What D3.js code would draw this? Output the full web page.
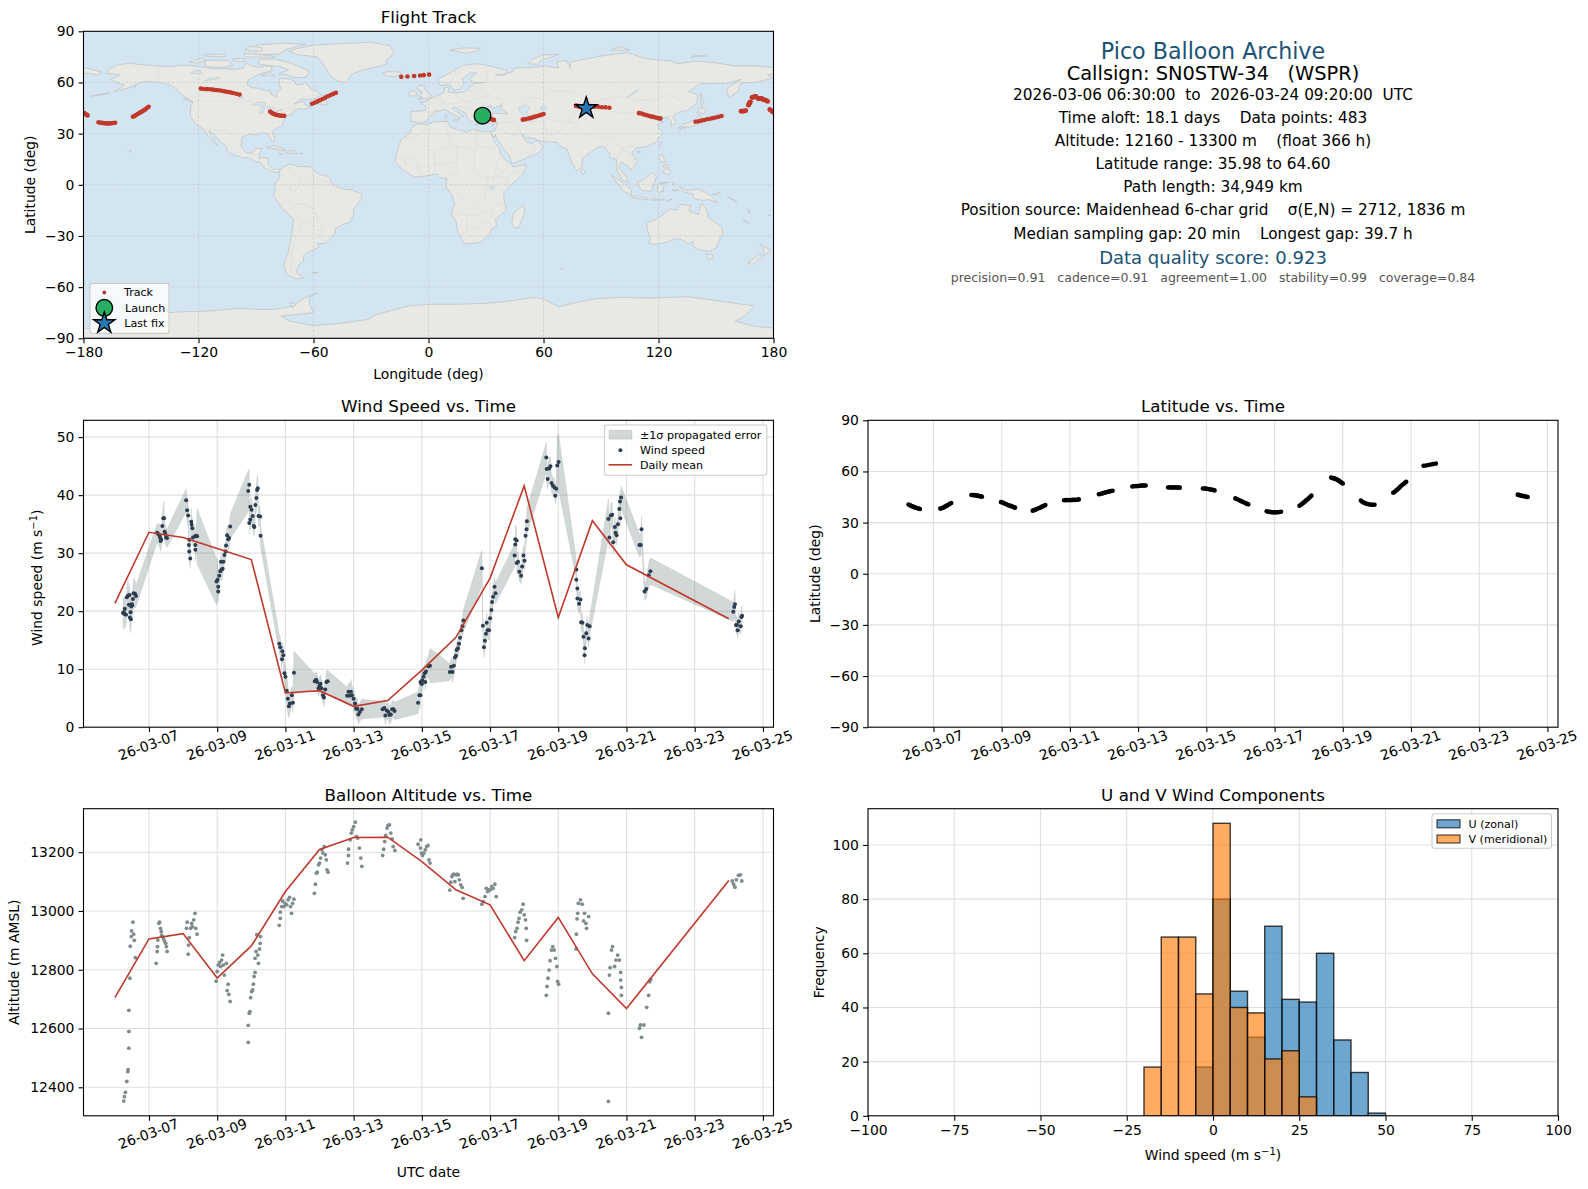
<!DOCTYPE html>
<html><head><meta charset="utf-8">
<script src="https://cdn.jsdelivr.net/npm/d3@7"></script>
<style>
html,body{margin:0;padding:0;background:#fff}
svg{display:block;font-family:"DejaVu Sans",sans-serif}
text{white-space:pre;fill:#000}
</style></head><body>
<script>
// ---- flight fixes (day of March 2026, latitude, longitude) ----
const fixDay=[
6.27,6.31,6.34,6.38,6.42,6.46,6.49,6.53,6.57,6.60,
7.20,7.24,7.27,7.31,7.34,7.38,7.41,7.45,7.48,7.52,
8.11,8.14,8.18,8.21,8.25,8.28,8.32,8.35,8.39,8.42,
8.98,9.03,9.07,9.12,9.17,9.21,9.26,9.30,9.35,9.39,
9.91,9.95,9.99,10.03,10.08,10.12,10.16,10.20,10.24,10.28,
10.83,10.88,10.93,10.98,11.03,11.07,11.12,11.17,11.22,11.26,
11.85,11.89,11.94,11.98,12.03,12.07,12.12,12.16,12.21,12.25,
12.83,12.87,12.92,12.96,13.01,13.05,13.09,13.14,13.18,13.22,
13.88,13.92,13.96,14.0,14.04,14.07,14.11,14.15,14.19,14.22,
14.90,14.94,14.98,15.01,15.05,15.09,15.13,15.17,15.20,15.24,
15.85,15.89,15.94,15.98,16.02,16.06,16.11,16.15,16.19,16.23,
16.77,16.82,16.87,16.91,16.96,17.0,17.05,17.10,17.14,17.19,
17.73,17.77,17.81,17.85,17.89,17.92,17.96,18.0,18.04,18.08,
18.66,18.69,18.71,18.74,18.76,18.79,18.81,18.84,18.86,18.89,18.91,18.94,18.97,19.00,
19.53,19.57,19.62,19.66,19.71,19.75,19.80,19.84,19.89,19.93,
20.48,20.52,20.57,20.61,20.65,20.69,20.73,20.78,20.82,20.86,
21.37,21.44,21.51,21.58,21.65,21.73,
24.13,24.16,24.19,24.22,24.25,24.29,24.32,24.35,24.39,24.42];
const fixLat=[
40.6,40.2,39.9,39.5,39.2,38.9,38.7,38.4,38.2,38.0,
38.2,38.4,38.7,39.0,39.4,39.8,40.2,40.6,41.0,41.5,
46.2,46.2,46.1,46.0,45.9,45.8,45.7,45.5,45.4,45.2,
42.0,41.8,41.3,40.9,40.5,40.1,39.8,39.5,39.1,38.8,
37.0,37.2,37.6,38.0,38.4,38.7,39.1,39.5,39.9,40.3,
43.1,43.2,43.2,43.2,43.2,43.3,43.3,43.3,43.4,43.6,
46.6,46.8,47.1,47.3,47.6,47.8,48.1,48.3,48.5,48.7,
51.2,51.3,51.4,51.4,51.5,51.6,51.7,51.7,51.8,51.8,
50.6,50.7,50.6,50.6,50.6,50.7,50.6,50.6,50.6,50.5,
50.0,50.0,49.9,49.8,49.7,49.6,49.4,49.3,49.1,48.9,
44.2,43.8,43.4,43.0,42.6,42.2,41.8,41.4,41.0,40.7,
36.7,36.4,36.3,36.1,36.0,36.0,36.0,36.1,36.2,36.4,
39.9,40.4,41.0,41.7,42.3,42.9,43.5,44.2,45.0,45.8,
56.4,56.2,56.1,56.0,55.8,55.6,55.4,55.1,54.8,54.5,54.2,53.8,53.4,52.9,
42.9,42.2,41.7,41.3,41.0,40.8,40.6,40.5,40.5,40.5,
47.5,48.1,48.9,49.6,50.3,51.1,51.9,52.6,53.3,54.0,
63.3,63.5,63.8,64.1,64.3,64.6,
46.4,46.2,46.1,45.9,45.7,45.6,45.5,45.3,45.1,45.0];
const fixLon=[
28.4,29.0,29.7,30.3,30.9,31.5,32.1,32.8,33.5,34.2,
49.2,50.4,51.6,52.8,54.0,55.2,56.4,57.6,58.8,60.0,
77.0,79.0,80.9,82.8,84.8,86.7,88.6,90.5,92.4,94.4,
109.8,111.0,112.3,113.5,114.8,116.0,117.2,118.5,119.8,121.0,
139.3,140.8,142.3,143.8,145.3,146.9,148.4,149.9,151.4,152.9,
163.0,163.3,163.6,163.9,164.1,164.5,164.8,165.0,165.3,165.6,
166.9,167.0,167.1,167.2,167.3,167.5,167.6,167.7,167.8,168.0,
168.7,169.0,169.2,169.5,169.8,170.0,170.2,170.5,170.8,171.0,
171.8,172.0,172.3,172.5,172.8,173.0,173.3,173.5,173.8,174.0,
174.5,174.8,175.0,175.3,175.6,175.9,176.1,176.4,176.7,177.0,
178.0,178.4,178.9,179.3,179.7,-179.8,-179.3,-178.8,-178.3,-177.9,
-172.2,-171.2,-170.3,-169.3,-168.4,-167.4,-166.4,-165.4,-164.5,-163.5,
-154.2,-153.3,-152.4,-151.5,-150.6,-149.6,-148.7,-147.8,-146.9,-146.0,
-118.8,-117.2,-115.6,-114.0,-112.5,-111.0,-109.5,-108.0,-106.5,-105.0,-103.5,-102.0,-100.3,-98.6,
-82.6,-81.8,-81.0,-80.2,-79.4,-78.5,-77.7,-76.9,-76.1,-75.3,
-60.8,-59.4,-58.0,-56.6,-55.2,-53.9,-52.5,-51.1,-49.7,-48.3,
-14.2,-11.0,-7.5,-4.4,-2.5,0.3,
77.0,77.6,78.1,78.6,79.2,79.7,80.2,80.8,81.6,82.3];

// ---- wind speed ----
const windDay=[
6.24,6.26,6.29,6.28,6.33,6.35,6.39,6.43,6.41,6.46,6.50,6.48,6.46,6.44,6.47,6.53,6.55,6.59,6.62,6.51,
7.24,7.27,7.31,7.33,7.34,7.36,7.39,7.42,7.44,7.46,7.48,7.50,7.53,
8.09,8.12,8.15,8.18,8.17,8.18,8.21,8.24,8.25,8.27,8.29,8.35,8.36,8.36,8.39,8.41,
8.98,9.01,9.03,9.03,9.06,9.09,9.13,9.16,9.11,9.18,9.21,9.25,9.26,9.29,9.32,9.35,9.38,
9.91,9.94,9.94,9.97,9.97,10.01,10.04,10.07,10.09,10.12,10.15,10.17,10.19,10.21,10.26,10.27,
10.82,10.85,10.91,10.94,10.90,10.97,11.0,11.04,11.07,11.10,11.13,11.19,11.22,11.25,
11.86,11.9,11.93,11.97,12.0,12.03,12.06,12.1,12.13,12.17,12.2,12.24,
12.81,12.85,12.89,12.92,12.95,13.0,13.04,13.07,13.11,13.14,13.18,13.24,
13.85,13.9,13.93,13.97,14.02,14.05,14.09,14.13,14.17,14.2,
14.89,14.93,14.96,14.96,14.99,15.0,15.01,15.05,15.08,15.1,15.12,15.19,15.24,
15.82,15.86,15.9,15.94,15.97,16.0,16.02,16.06,16.09,16.12,16.16,16.19,16.22,
16.76,16.79,16.82,16.85,16.88,16.9,16.93,16.97,17.0,17.04,17.06,17.09,17.13,17.16,
17.72,17.74,17.74,17.78,17.78,17.82,17.86,17.91,17.94,17.98,18.01,18.04,18.07,18.08,
18.65,18.66,18.69,18.73,18.77,18.8,18.84,18.89,18.91,18.94,18.97,19.01,
19.53,19.53,19.56,19.56,19.61,19.65,19.67,19.71,19.74,19.78,19.77,19.82,19.85,19.89,19.92,
20.47,20.5,20.54,20.58,20.61,20.66,20.68,20.71,20.75,20.79,20.82,20.81,20.84,
21.38,21.42,21.44,21.53,21.58,21.65,21.7,
24.13,24.16,24.18,24.21,24.24,24.26,24.29,24.35,24.37,24.39];
const windSpeed=[
19.7,19.8,20.4,19.5,19.4,22.4,22.7,22.8,21.1,21.1,21.2,20.8,19.8,18.9,18.6,22.1,23.1,23.0,22.6,21.0,
33.5,33.3,33.0,32.6,32.1,32.3,34.7,36.0,36.0,33.7,33.3,32.7,32.6,
39.1,37.4,36.5,32.3,31.4,30.3,29.1,35.4,34.9,34.3,32.7,32.9,31.4,30.6,33.0,32.9,
25.1,25.4,24.2,23.4,26.1,26.9,27.2,27.3,28.5,28.5,29.7,30.3,31.3,33.1,32.4,32.6,34.6,
40.7,41.8,35.2,38.0,35.8,37.5,36.4,34.7,34.5,38.3,39.5,40.9,41.2,36.4,36.3,33.0,
14.4,13.8,13.1,12.4,11.7,9.3,8.7,6.3,4.9,3.6,4.1,5.5,4.2,9.4,
7.9,8.2,7.8,6.7,7.2,7.5,6.7,5.5,5.1,6.5,7.8,7.9,
5.4,6.1,5.4,6.1,5.5,4.9,4.1,3.2,3.2,2.2,2.6,3.1,
3.1,3.3,2.0,2.9,2.6,2.1,2.2,3.1,3.1,2.8,
4.2,5.5,5.5,7.8,7.5,7.5,8.1,8.7,9.3,7.8,9.6,10.5,10.6,
9.5,10.4,9.5,10.6,12.0,12.3,13.3,13.6,14.4,15.4,16.7,17.4,18.4,
27.4,17.5,13.8,14.9,16.1,18.0,16.7,16.7,18.8,20.2,21.6,22.5,24.2,23.1,
29.6,31.5,32.4,32.2,28.3,28.5,26.8,26.1,27.7,29.6,28.7,33.0,34.1,35.5,
46.5,44.5,42.8,44.6,45.0,42.1,41.6,41.3,39.9,41.1,45.1,45.7,
27.2,25.4,23.9,22.2,21.3,22.0,18.1,18.0,15.6,13.6,12.4,16.2,17.6,15.3,17.4,
35.9,32.7,36.5,36.6,31.9,34.5,33.5,33.1,35.0,37.6,36.0,38.9,39.6,
31.4,31.4,34.1,23.4,23.8,26.2,26.9,
19.9,20.7,21.2,17.6,17.6,16.7,18.2,17.4,19.0,19.2];
const windSigma=[
2.8,2.4,2.1,2.6,2.2,2.0,2.8,1.9,2.0,1.8,2.1,2.2,2.5,2.6,2.3,2.0,2.6,2.4,1.9,2.2,
1.6,1.8,2.0,2.1,1.8,1.5,2.0,2.3,3.0,2.0,1.6,1.5,1.6,
2.0,2.2,2.0,1.8,2.0,1.7,1.8,2.4,1.9,1.8,1.6,1.9,1.7,2.1,2.5,4.8,
4.0,3.6,2.5,2.0,1.8,1.6,1.8,2.0,1.8,1.6,1.6,1.8,1.8,1.7,1.8,1.9,2.1,
3.6,2.6,2.0,2.2,1.8,2.0,1.7,1.6,1.6,2.0,2.2,2.3,2.2,1.8,1.8,1.9,
1.6,1.7,1.5,1.6,1.8,1.6,1.8,2.4,2.6,2.0,1.9,1.6,1.7,3.7,
1.3,1.4,1.5,1.4,1.4,1.6,1.6,1.4,1.5,1.5,1.9,1.9,
1.5,1.6,2.0,2.2,1.7,1.6,1.5,1.6,1.9,1.6,1.6,1.7,
1.4,1.7,1.6,1.4,1.5,1.6,1.5,1.4,1.5,1.5,
1.9,2.2,1.8,1.7,1.6,1.7,1.8,1.6,1.6,1.5,1.7,1.8,3.0,
1.5,1.6,1.9,1.5,1.6,1.5,1.4,1.6,1.5,1.6,1.6,1.6,1.9,
3.2,2.3,1.8,1.7,1.8,1.7,1.6,1.7,1.8,1.8,1.7,1.8,1.7,1.8,
2.0,2.3,2.5,2.2,1.7,1.8,1.6,1.5,2.0,1.8,1.7,2.0,2.1,2.3,
2.6,2.3,1.9,1.8,1.7,1.6,1.5,1.5,1.6,1.7,5.2,4.9,
1.7,1.8,1.8,1.7,1.8,1.7,1.6,1.7,1.7,1.6,1.6,1.6,1.7,1.6,1.6,
3.5,2.0,2.0,2.2,2.0,1.9,1.8,1.7,1.8,1.8,1.8,2.0,2.0,
2.0,1.9,2.5,1.5,1.6,2.2,2.3,
1.7,2.0,2.5,1.5,1.5,1.4,1.6,1.4,1.6,1.9];
const meanDay=[6,7,8,9,10,11,12,13,14,15,16,17,18,19,20,21,24];
const meanWind=[21.35,33.6,32.7,30.8,28.9,5.9,6.3,3.6,4.6,9.84,15.5,25.7,41.6,18.9,35.6,28.0,18.7];
const meanAlt=[12705,12905,12923,12772,12881,13066,13209,13250,13251,13168,13072,13021,12831,12978,12786,12668,13104];

// ---- altitude ----
const altDay=[
6.26,6.28,6.31,6.35,6.38,6.39,6.41,6.41,6.41,6.44,6.45,6.48,6.49,6.53,6.55,6.57,6.6,
7.21,7.25,7.24,7.26,7.29,7.31,7.34,7.36,7.37,7.40,7.43,7.46,7.49,7.51,7.53,
8.10,8.12,8.15,8.16,8.18,8.22,8.25,8.27,8.31,8.35,8.37,8.41,
8.97,9.0,9.03,9.07,9.10,9.13,9.16,9.18,9.21,9.27,9.32,9.29,9.34,9.38,
9.91,9.91,9.94,9.96,9.98,10.01,10.04,10.06,10.08,10.11,10.11,10.14,10.16,10.19,10.21,10.24,10.26,10.27,
10.82,10.85,10.85,10.89,10.92,10.95,10.99,11.04,11.08,11.12,11.15,11.18,11.21,11.25,
11.85,11.88,11.91,11.93,11.97,12.0,12.03,12.07,12.1,12.14,12.17,12.2,12.22,12.25,
12.82,12.85,12.85,12.9,12.93,12.96,13.0,13.05,13.08,13.12,13.17,13.21,13.24,
13.85,13.88,13.91,13.94,13.98,14.01,14.05,14.09,14.13,14.16,14.21,
14.89,14.97,14.96,14.99,15.02,15.06,15.1,15.14,15.18,15.21,15.24,
15.82,15.85,15.88,15.91,15.94,15.97,16.0,16.04,16.07,16.1,16.14,16.18,16.21,
16.76,16.8,16.85,16.89,16.93,16.97,17.01,17.05,17.09,17.14,17.18,
17.72,17.75,17.79,17.82,17.85,17.88,17.93,17.97,18.0,18.04,18.06,18.07,
18.65,18.67,18.7,18.73,18.76,18.8,18.84,18.88,18.92,18.96,18.98,19.01,
19.52,19.53,19.55,19.57,19.59,19.65,19.7,19.74,19.77,19.81,19.83,19.89,
20.47,20.47,20.5,20.52,20.56,20.59,20.65,20.69,20.74,20.79,20.83,20.83,20.85,20.85,
21.38,21.41,21.44,21.51,21.59,21.65,21.68,21.71,
24.1,24.14,24.18,24.22,24.28,24.34,24.38];
const altitude=[
12353,12368,12383,12420,12453,12460,12533,12590,12662,12771,12880,12913,12932,12962,12921,12900,12841,
12822,12879,12862,12901,12958,12962,12941,12930,12918,12913,12905,12896,12890,12879,12862,
12941,12962,12853,12884,12909,12941,12958,12947,12970,12992,12941,12921,
12761,12794,12816,12825,12811,12833,12850,12816,12782,12822,12751,12729,12716,12692,
12553,12611,12652,12657,12705,12726,12731,12751,12777,12791,12839,12862,12919,12850,12822,12871,12890,12913,
12951,12975,12996,13015,13034,13015,13026,13021,13038,13046,13015,12992,13026,13040,
13060,13091,13128,13132,13157,13163,13180,13208,13197,13219,13191,13174,13140,13132,
13163,13189,13210,13242,13265,13276,13287,13302,13253,13248,13214,13180,13152,
13189,13210,13236,13257,13282,13291,13293,13265,13245,13219,13206,
13227,13242,13214,13197,13189,13197,13208,13219,13223,13174,13163,
13071,13098,13117,13123,13125,13100,13123,13125,13123,13106,13089,13080,13043,
13023,13032,13049,13077,13066,13072,13072,13083,13077,13091,13049,
12909,12930,12941,12962,12975,12996,13004,13023,12987,12970,12941,12900,
12713,12743,12771,12799,12831,12867,12879,12867,12839,12811,12760,12751,
12871,12921,12973,12992,13026,13038,13023,12966,12992,12958,12941,12981,
12352,12652,12782,12807,12867,12879,12811,12833,12850,12833,12791,12765,12740,12713,
12601,12612,12570,12612,12672,12713,12759,12767,
13102,13091,13081,13106,13121,13123,13102];

// ---- histogram counts ----
const binStart=[-20,-15,-10,-5,0,5,10,15,20,25,30,35,40,45];
const binWidth=5;
const countU=[0,0,0,18,80,46,29,70,43,42,60,28,16,1];
const countV=[18,66,66,45,108,40,38,21,24,7,0,0,0,0];

// ---- tick labels ----
const dateTickDays=[7,9,11,13,15,17,19,21,23,25];
const lonTicks=[-180,-120,-60,0,60,120,180];
const latTicks=[-90,-60,-30,0,30,60,90];
const windTicks=[0,10,20,30,40,50];
const altTicks=[12400,12600,12800,13000,13200];
const histXTicks=[-100,-75,-50,-25,0,25,50,75,100];
const histYTicks=[0,20,40,60,80,100];

// ---- summary text ----
const infoLines=[
["Pico Balloon Archive",22.2,"#1a5276",50.7],
["Callsign: SN0STW-34   (WSPR)",19.4,"#000",73],
["2026-03-06 06:30:00  to  2026-03-24 09:20:00  UTC",15.3,"#000",94.2],
["Time aloft: 18.1 days    Data points: 483",15.3,"#000",117.6],
["Altitude: 12160 - 13300 m    (float 366 h)",15.3,"#000",140.9],
["Latitude range: 35.98 to 64.60",15.3,"#000",163.2],
["Path length: 34,949 km",15.3,"#000",186.5],
["Position source: Maidenhead 6-char grid    σ(E,N) = 2712, 1836 m",15.3,"#000",209.8],
["Median sampling gap: 20 min    Longest gap: 39.7 h",15.3,"#000",233],
["Data quality score: 0.923",18,"#1a5276",257.4],
["precision=0.91   cadence=0.91   agreement=1.00   stability=0.99   coverage=0.84",12.5,"#555",277.7]
];

// ---- basemap outlines, read by eye as [lon,lat] ----
const land=[
[[-168,65.5],[-166,68.3],[-162,70.3],[-156.5,71.3],[-150,70.5],[-141,69.7],[-135,69.3],[-128,70.2],[-124,69.8],[-117,68.9],[-112,68],[-108,68.2],[-102,67.8],[-97,68.2],[-95,71.5],[-92.5,69.7],[-88,68.8],[-85.5,69.8],[-82,69.5],[-81.5,67],[-87,65.3],[-90,63.8],[-94,61.5],[-94.8,59],[-92.5,57],[-88,56.5],[-85,55.3],[-82.3,55.1],[-82,52.9],[-79.5,51.3],[-79,54.5],[-76.8,56.5],[-78.2,59],[-77.5,62.4],[-73.5,62.2],[-70,61],[-69,58.8],[-66,58.8],[-64.5,60.3],[-61.5,56.5],[-58,54.8],[-55.8,52.5],[-60,50.2],[-66.5,50.2],[-70,47.5],[-65,49],[-64.5,47],[-61,45.5],[-66,44],[-67,45],[-70,43.7],[-70.7,41.7],[-74,40.5],[-75.5,37.5],[-76,35],[-78,33.9],[-81,32],[-81.3,30],[-80.1,26.8],[-80.4,25.2],[-81.8,26],[-82.8,28],[-84,30],[-87,30.4],[-90,29.2],[-93.5,29.7],[-97.2,27.8],[-97.8,22.5],[-95.5,18.8],[-92,18.5],[-90.5,21],[-87,21.5],[-88.2,17.5],[-88.7,15.8],[-84,15.8],[-83.3,11.5],[-81,8.8],[-79.5,9.5],[-77.3,8.6],[-77.8,7.2],[-80.3,7.4],[-83,8.3],[-85.8,10],[-87.5,13],[-91,13.9],[-94.5,16.1],[-97,15.8],[-101.5,17.5],[-105.5,20.2],[-105.4,22.5],[-109,25.8],[-112.5,30],[-114.7,31.7],[-113,28],[-110,23.2],[-112.2,25],[-115,28.5],[-117.2,32.6],[-120.6,34.5],[-122.5,37.5],[-124.3,40.4],[-124,46.3],[-122.7,48.5],[-125,50],[-128,52.3],[-130.5,55],[-134,58.2],[-139,59.7],[-146,60.7],[-151,60],[-152,59],[-158,56.3],[-164,54.7],[-158.5,58.5],[-162,59.5],[-166,61.7],[-161,64.3]],
[[-77.3,8.6],[-75.5,10.7],[-72,12.2],[-68,10.7],[-62,10.7],[-57,6],[-52,4.8],[-50,0],[-44.5,-2.5],[-40,-2.9],[-35.2,-5.3],[-34.8,-8],[-37,-11.5],[-39,-14],[-39.3,-18],[-41,-22],[-44.5,-23],[-48.5,-25.8],[-48.7,-28.5],[-52,-32.2],[-54,-34.5],[-58.3,-34.2],[-57,-36.5],[-62,-39],[-65,-41],[-65.3,-45],[-67.5,-46.5],[-69,-51],[-65.2,-54.8],[-69,-55.3],[-74,-52.5],[-75.5,-47],[-73.2,-40],[-71.5,-30],[-70.3,-20],[-76,-14],[-81,-6],[-80,-2.5],[-80,1],[-77.5,4],[-77.8,7.2]],
[[-5.9,35.8],[-2,35.2],[3,36.9],[10,37.3],[11,34],[15,32.3],[20,31],[23,32.5],[29,31],[32.3,31.2],[34.5,31.3],[32.5,29.9],[35,24],[37.3,21],[37.3,18.5],[39.7,15],[43.2,12],[44,10.5],[51.2,11.8],[49,6],[44,1],[39.5,-4.5],[39.3,-8],[40.6,-15],[35,-20],[35.5,-24],[32.8,-26],[32,-29],[27.5,-33.5],[20,-34.8],[18.3,-33.8],[15,-27],[14.5,-22],[11.8,-17],[13.8,-11],[12,-5.5],[9,-1],[9.7,3.5],[6,4.3],[4,6.3],[-2,5],[-7.5,4.5],[-13,8.5],[-16.7,12.5],[-17.4,14.7],[-16.2,20],[-14.5,26],[-10,30],[-9,33]],
[[-9,37],[-9.3,43],[-2,43.4],[-1.2,46],[-4.6,48.4],[-1.5,48.7],[1.5,50.9],[4,52],[8,54],[8.5,57],[10.8,57.5],[10.2,54.5],[14,54],[19,54.4],[21.2,57],[24,59.4],[30,60],[23,60],[21.3,62],[25,65.3],[22,65.8],[17.5,62],[18.8,59.8],[16.5,56.2],[13,55.4],[11.3,59],[6,58.2],[5,62],[12,66],[18,70],[25.5,71],[31,70],[41,67],[40.3,65],[34.8,64.5],[38,64],[44,66.5],[44.5,68.5],[54,68.8],[61,69.8],[68,68.5],[67,72],[72,73],[74,68.5],[74,72],[82,73.7],[90,75.5],[104,77.5],[113,74],[127,72.5],[130,71],[140,72.6],[150,71.5],[160,69.7],[170,69.7],[178,69],[180,68.8],[180,65],[177,64.6],[179.5,62.5],[170.5,60],[163.5,59.8],[162,57.8],[162,55],[156.7,51],[155.5,56.5],[163,61.8],[155,59.2],[150,59.5],[142,59.2],[135.5,54.7],[140.5,53],[140,48],[135,43.5],[130.7,42.5],[127.5,39.8],[129.3,36.5],[126.5,34.5],[126.7,37.5],[124.7,39.8],[121.5,39],[122,40.5],[118,39],[120,37.5],[122.5,37],[119.3,35],[122,31],[121.5,28.5],[118,24.5],[113.5,22.3],[108.5,21.7],[106,19],[109,13.5],[107,10.5],[105,8.7],[104.8,10.5],[100.5,13.5],[99.5,10],[103.5,4.5],[104.2,1.4],[100.8,3],[98.5,8],[98,15],[94.5,16],[94.5,18.5],[91.5,22.5],[88,21.8],[85,19.5],[80.3,15.5],[80,11],[77.5,8],[75,12.5],[72.8,19],[72.5,21],[69,22.3],[67,24.8],[61.5,25.2],[57,26],[56,27],[51,27.8],[48.5,30],[50,26.5],[51.5,25],[54,24.1],[56.3,26],[59.8,22.5],[57.8,19],[52,16],[45,12.8],[43.3,12.8],[42.5,16.5],[39,21.5],[35.2,28],[34.8,29.5],[34.3,27.8],[32.6,29.9],[32.3,31.2],[34.5,31.5],[35.8,35],[36,36.8],[32,36.1],[30.5,36.3],[27.5,36.8],[26.5,39.5],[29,41],[31,41.2],[35,42],[41.5,41.5],[39,44],[37.5,45.2],[38.5,47],[35,45.5],[33.5,44.5],[33,46],[30.5,46],[28,43.5],[28,41.8],[26,40.8],[23.5,40.3],[24,38],[22.8,36.6],[21,38],[19.5,40.5],[19.4,42],[15,44.5],[13.7,45.6],[12.3,44.8],[16,41.8],[18.4,40],[16.5,39.8],[15.8,38.2],[15.5,40],[12.5,41.5],[10.3,43.2],[8.8,44.4],[6,43.2],[3.2,43.2],[3.2,41.8],[0,39.8],[-0.8,37.7],[-2,36.8],[-5.3,36.1],[-7,37.1]],
[[-180,68.8],[-175,67.5],[-170,66],[-173,64.4],[-178,65.5],[-180,65]],
[[-73,78.2],[-68,80],[-60,82],[-45,82.8],[-30,83.6],[-20,81.5],[-18,77],[-22,73],[-22,70.5],[-32,68],[-40,65],[-43,60],[-48,61],[-52,65],[-54,69.5],[-58,75],[-68,76.2]],
[[-80,73.7],[-72,71.5],[-67,69],[-62,66.5],[-64,63],[-70,62.8],[-74,64.5],[-78,65],[-73,67.5],[-78,69.5],[-85,70],[-89,71],[-88,73.5]],
[[-117,73],[-105,73],[-102,70],[-108,68.8],[-116,69.2]],
[[-125,72],[-118,74.2],[-116,73],[-121,71.3]],
[[-90,76.5],[-78,76.5],[-75,79],[-64,82.5],[-75,83],[-90,82]],
[[-96,75],[-80,74.7],[-82,75.8],[-96,77]],
[[-117,75.5],[-106,75],[-106,76.5],[-117,76.5]],
[[-96,79],[-87,78.2],[-87,80.5],[-93,81.2]],
[[-102,73],[-96,72],[-96,74],[-102,74]],
[[-59,47.8],[-53,46.8],[-53,48.8],[-56,51.5]],
[[-128,50.7],[-123.5,48.4],[-125,50.3]],
[[-87,64],[-80,63.8],[-83,65.8]],
[[-85,21.9],[-80,23.1],[-74.2,20.2],[-77.5,19.9],[-78,20.8]],
[[-74.4,18.5],[-68.5,18.5],[-70,19.8],[-73,20]],
[[-78.3,18.3],[-76.3,18.1],[-77,17.8]],
[[-67.2,18.4],[-65.7,18.3],[-66,18]],
[[-156,20.5],[-155,19.6],[-155.7,19]],
[[-158.2,21.6],[-157.7,21.3],[-158,21.2]],
[[-176,52],[-170,52.8],[-166,54],[-170,53.2]],
[[-154,57.5],[-152.5,58],[-153,57]],
[[-24,65.5],[-22,64],[-18,63.4],[-14,64.5],[-14.8,66],[-18,66.3],[-22,66.3]],
[[-5.5,50],[1.5,51.2],[1.5,52.8],[-1,54.6],[-2,56],[-2,57.6],[-5,58.6],[-6,56.5],[-3,54],[-4.8,52.8],[-5.2,51.7],[-3,51.3]],
[[-10,52],[-6.2,52.2],[-6,54],[-7.5,55.3],[-10,54.3]],
[[11,79],[20,77],[25,78.5],[27,80],[18,80.3]],
[[52,71],[57,70.6],[58,72.5],[68,76.5],[60,76.2],[54,73.5]],
[[95,79],[105,79],[100,81]],
[[137,75],[145,75.5],[140,76]],
[[142,54],[143.5,49],[142.5,46],[142,50]],
[[131,34],[136,33.7],[140.5,35.5],[142,39.5],[141,41.3],[139.8,39],[137,37],[132.5,35.5]],
[[140,42],[143.5,42],[145.3,43.5],[142,45.4]],
[[130,33.5],[131.8,33],[130.8,31.2]],
[[132.5,33.5],[134.5,34],[133,32.8]],
[[120.2,23],[121,22],[122,25],[121,25.2]],
[[108.7,19.3],[110.5,20],[110,18.4]],
[[80,9.7],[81.8,7.5],[80.5,6],[79.8,7.5]],
[[120.3,16],[122,18.5],[122.3,16.5],[124,13],[121,13.8]],
[[122,7.5],[125.5,5.8],[126.5,8],[125,9.5],[123,8.5]],
[[122,11],[125,12],[125,10.5],[123,9.8]],
[[95.3,5.6],[98,4],[103.8,-1],[106,-3.2],[105.8,-5.8],[102,-4],[98.5,1]],
[[105.3,-6.8],[108.5,-6.5],[114.5,-7.7],[114.5,-8.7],[108,-7.9]],
[[109,1.5],[111.5,2.5],[116.5,7],[119,5],[117.8,1],[116.3,-3.9],[111,-3.2],[109.2,0]],
[[119.5,0],[120.8,1.3],[125,1.5],[121,0.5],[123.3,-0.9],[122,-1.8],[122.8,-4.5],[121.5,-3.5],[120.5,-5.6],[119.5,-3.5]],
[[127.5,2],[128.5,1],[128,-0.8]],
[[127,-3],[130.5,-3],[128,-3.8]],
[[131,-0.8],[135,-3.3],[141,-2.6],[145.5,-5],[147.8,-6.7],[150.5,-10.5],[146,-8.5],[143,-9.2],[138.5,-8],[138,-5.5],[133,-4],[132,-2.8]],
[[124,-10],[127,-8.4],[125,-9]],
[[116,-8.3],[119,-8.3],[119,-9],[116,-9]],
[[119.5,-8.4],[123,-8.3],[123,-8.9],[120,-8.9]],
[[148,-5.7],[152,-4.3],[152,-5.5]],
[[156,-6.8],[161,-9.8],[160,-10]],
[[166.5,-14.5],[168,-16],[167,-16.5]],
[[164,-20.2],[167,-22.3],[166,-22.2]],
[[177.5,-17.5],[178.5,-18],[177.5,-18.2]],
[[113.7,-22.5],[114.2,-26],[115.7,-32],[115,-34.3],[118,-35],[123.5,-33.9],[129,-31.6],[132,-32],[135.5,-34.8],[138,-33],[138,-35.5],[140.5,-38],[144,-38.5],[146.5,-39],[150,-37.3],[151.3,-33.5],[153.5,-28.5],[153,-25],[149.5,-22],[146,-19],[145.3,-15],[142.5,-10.8],[141.5,-14],[140.8,-17.5],[136,-15.5],[136.8,-12.2],[131,-11.5],[129.5,-15],[126,-14],[122.3,-17.5],[119,-20]],
[[144.7,-40.8],[148.3,-40.9],[148,-43],[146,-43.6]],
[[172.8,-34.5],[175.5,-36.8],[178.5,-37.7],[175.5,-41.5],[174.8,-39],[174.5,-37]],
[[172.7,-40.6],[174.3,-41.7],[171,-44.9],[169,-46.6],[166.5,-46],[170,-43]],
[[49.3,-12],[50.4,-15.5],[47.2,-25],[45,-25.5],[43.4,-22],[44.4,-16.2]],
[[69,-49],[70.3,-49.2],[69.5,-49.7]],
[[-61,-51.5],[-58,-51.4],[-59.5,-52.3]],
[[9,41],[9.7,41],[9.5,39.2],[8.5,39]],
[[12.5,38],[15.5,38.2],[15,36.8]],
[[24,35.5],[26,35.2],[24.5,35]],
[[33,35],[34.5,35.6],[33.5,34.7]],
[[-180,-84],[-165,-84.5],[-155,-80],[-148,-76],[-130,-74.5],[-114,-74],[-100,-72.5],[-90,-73],[-80,-73],[-70,-71],[-66,-67],[-58,-63.3],[-62,-66],[-62,-70],[-60,-75],[-77,-77],[-72,-80],[-60,-82.5],[-48,-81.5],[-32,-79],[-27,-76],[-17,-73],[-10,-71],[0,-70],[15,-70],[30,-69.5],[40,-68.5],[55,-66],[60,-67],[68,-71.5],[75,-69.5],[88,-66.7],[100,-66],[115,-66.5],[135,-65.6],[145,-67],[160,-69.5],[170,-71],[165,-77],[160,-80],[170,-83],[180,-84],[180,-90],[-180,-90]],
[[-72,-69],[-69,-70],[-71,-72]]
];
const lakes=[
[[47,45.5],[51,47],[53,45],[51,42],[54,40],[54,37],[50,37.5],[49.5,40],[47.5,43]],
[[-92,46.7],[-85,46.7],[-85,48],[-89,48.5]],
[[-88,42],[-86.5,42],[-85,46],[-87,45.8]],
[[-84,46],[-80,45],[-82,43.2],[-83.8,44]],
[[-83,41.6],[-79,42.8],[-79.5,43],[-83,42.2]],
[[-79.5,43.3],[-76.3,43.5],[-76.5,44.2]],
[[-124,65.5],[-118,65],[-119,67],[-122,67]],
[[-117,61],[-110,62],[-109,63],[-114,62.5]],
[[-99,50.5],[-96.5,50.5],[-98,54],[-99.5,53]],
[[58.5,44],[61.5,44],[61,46.5],[59,46]],
[[103.8,51.7],[105,51.7],[110,55.7],[109,55.7]],
[[31.8,-1],[34,-1],[33.8,-3],[32,-2.8]]
];
const borders=[
[[-123,49],[-95,49],[-89,48],[-84.5,46.5],[-82.5,45],[-82.5,42.8],[-79,43],[-76,44.5],[-74.5,45],[-71,45],[-69,47.4],[-67.5,45.5]],
[[-141,69.7],[-141,60.3],[-135,59],[-130,55]],
[[-117,32.5],[-114.8,32.5],[-108,31.5],[-106.4,31.7],[-103,29],[-101,29.7],[-97.2,26]],
[[-92.2,14.5],[-91,17.5],[-89,17.8]],[[-87.5,13],[-88.7,15.8]],[[-85.8,11],[-83.7,11]],[[-83,8.3],[-83.6,9.6]],
[[-72,12],[-72.5,7.5],[-67.5,6],[-67,1.5],[-70,-4.2],[-75,-1],[-78.8,-4]],
[[-70,-4.2],[-74,-8],[-70.5,-11]],
[[-69.5,-11],[-65,-11],[-60,-14],[-58,-19],[-62.6,-22],[-67,-23],[-69.5,-18],[-69,-15],[-69.5,-11]],
[[-67,-23],[-70,-33],[-71.5,-42],[-72,-50],[-69,-52]],
[[-60,5],[-60,2],[-52,2],[-51.5,4.5]],[[-60,8.5],[-60.5,5]],[[-67,1.5],[-60,5]],
[[-62.6,-22],[-58,-27],[-54.5,-26],[-57.5,-30],[-53.5,-33.7]],[[-58,-19],[-54.5,-26]],
[[-8.7,27.5],[-1,32],[-2,35]],
[[-13,27.7],[-8.7,27.3],[-5,25],[3,19],[12,23.5],[10,30],[8.5,37]],
[[12,23.5],[25,20],[25,31.5]],[[25,22],[36.8,22]],
[[24,20],[24,8.5],[27,5],[31,3.7],[34,4.2],[36,13],[38,17.7]],
[[15,23],[15,13],[14,10],[15.5,7.5],[9,4.5]],
[[3,19],[3.5,12],[2.7,6.3]],[[-5.5,10.5],[-3,5]],
[[-12,15],[-5.5,15.5],[-5.5,10.5],[3.5,12],[14,13]],[[-16.5,16],[-12,15],[-12,11]],
[[14,-5],[16,-6],[22,-11],[24,-11],[30,-8],[29,-3],[30,-1],[31,3.7]],
[[30,-1],[34,-1],[40,-3.8]],[[34,-1],[34,4.2]],
[[41,4],[35,5],[42,11]],[[41,-1.5],[41,4],[46,8],[48,8]],
[[12,-17],[24,-18],[25,-17.8],[33,-15],[35,-11.5],[40.5,-10.5]],
[[20,-18],[20,-28],[16.5,-28.5]],[[25,-18],[29,-22],[32,-22.5],[33,-15]],[[20,-25],[25,-25.5],[29,-22]],
[[-1.8,43.3],[3.2,42.4]],[[-7,42],[-6.5,37.2]],
[[2.5,51],[6,49.5],[8,49],[7.5,47.6],[6,46],[7.5,43.8]],
[[7,53.3],[6,51],[6,49.5]],
[[14.2,54],[15,51],[19,49.5],[22.5,49],[24,50.5],[23.5,54],[21,55.2],[28,56],[28,59.5]],
[[7.5,47.6],[13,47.5],[17,48.5],[22.5,48]],
[[13.7,45.6],[19,45.5],[22,44],[28,44]],[[22.5,48],[27,48],[30,46]],
[[24,50.5],[32,52.3],[40,49.6],[38.5,47]],[[28,56],[32,52.3]],[[31,60],[30,69.5]],
[[23,68.5],[20,69]],[[12,60],[14,65.5],[20,69]],[[26,41.5],[22,41],[20,42]],
[[44.5,37],[36.5,36.5]],[[44.8,39.7],[44.5,37],[46,35],[48.5,30]],
[[48,29],[44,29],[37,32],[39,32.5],[42,37]],[[52,16.5],[55,20],[55.5,22.7],[51.5,24.5]],[[45,17.5],[52,19]],
[[61.5,25.2],[61,31],[61,36.5],[54,37.3]],[[61,29.5],[66,29.5],[71,34],[74,37],[78,35]],
[[68,24],[71,27],[74,32],[78,35]],[[78,35],[81,30],[88,27.5],[97,28]],
[[92,21],[94,25],[97,28],[98.5,24],[101,21],[98,15]],[[101,21],[106,23],[108,21.5]],
[[101,21],[105,18],[107,15],[107,11]],[[99.5,7],[102,6]],
[[50,46],[47,51],[60,51],[62,55],[70,55],[76,54],[87,49]],
[[87,49],[98,52],[107,50],[119,50],[116,47],[112,44],[105,42],[96,43],[87,49]],
[[87,49],[80,45],[74,40],[74,37]],[[54,41.5],[66,37.5],[74,37]],[[56,45],[56,41.5]],
[[119,50],[126,53],[134,48],[131,43]],[[124.5,40],[130.5,42.5]],[[126,38],[129,38.5]]
];
const launchFix={lon:28.2,lat:40.5};
const lastFix={lon:82.3,lat:44.9};

// ---- page ----
const W=1588,H=1189;
const svg=d3.select("body").append("svg").attr("width",W).attr("height",H).attr("viewBox",`0 0 ${W} ${H}`);
const defs=svg.append("defs");
const f=defs.append("filter").attr("id","soft").attr("x","-2%").attr("y","-2%").attr("width","104%").attr("height","104%");
f.append("feGaussianBlur").attr("stdDeviation",0.35);

const colL=[83.5,773.5],colR=[868,1558];
const row1=[31.3,338.3],row2=[420.3,727.2],row3=[808.7,1115.8];
const gridCol="#dfdfdf",FS=13.9,lineW=1.6;
const toDate=d=>new Date(Date.UTC(2026,2,1)+(d-1)*864e5);
const dateDomain=[toDate(5.08),toDate(25.31)];
const fmtDate=d3.utcFormat("%y-%m-%d");
let clipN=0;

function panel(xr,yr,xScale,yScale,o){
  const g=svg.append("g");
  const id="c"+(clipN++);
  defs.append("clipPath").attr("id",id).append("rect").attr("x",xr[0]).attr("y",yr[0]).attr("width",xr[1]-xr[0]).attr("height",yr[1]-yr[0]);
  const body=g.append("g").attr("clip-path",`url(#${id})`);
  const xt=o.xTicks,yt=o.yTicks;
  if(o.bg) body.append("rect").attr("x",xr[0]).attr("y",yr[0]).attr("width",xr[1]-xr[0]).attr("height",yr[1]-yr[0]).attr("fill",o.bg);
  const under=body.append("g");
  const grid=body.append("g").attr("stroke",o.gridStroke||gridCol).attr("stroke-width",o.gridW||1.1).attr("stroke-dasharray",o.dash||null);
  grid.selectAll("line.x").data(xt).join("line").attr("x1",d=>xScale(d)).attr("x2",d=>xScale(d)).attr("y1",yr[0]).attr("y2",yr[1]);
  grid.selectAll("line.y").data(yt).join("line").attr("y1",d=>yScale(d)).attr("y2",d=>yScale(d)).attr("x1",xr[0]).attr("x2",xr[1]);
  const marks=body.append("g");
  const axX=g.append("g").attr("transform",`translate(0,${yr[1]})`).call(d3.axisBottom(xScale).tickValues(xt).tickSize(4.9).tickPadding(4.2).tickSizeOuter(0).tickFormat(o.xFmt||(d=>d3.format("d")(d).replace("-","−"))));
  const axY=g.append("g").attr("transform",`translate(${xr[0]},0)`).call(d3.axisLeft(yScale).tickValues(yt).tickSize(4.9).tickPadding(4.2).tickSizeOuter(0).tickFormat(d=>d3.format("d")(d).replace("-","−")));
  [axX,axY].forEach(a=>{a.attr("font-family",null).attr("font-size",null);a.selectAll("text").attr("font-size",FS).attr("fill","#000");a.selectAll("line").attr("stroke","#000").attr("stroke-width",1.1);a.select(".domain").remove();});
  if(o.rotate){axX.selectAll("text").attr("text-anchor","middle").attr("y",0).attr("dy","0.35em").attr("transform","translate(-1,18) rotate(-20)");}
  g.append("rect").attr("x",xr[0]).attr("y",yr[0]).attr("width",xr[1]-xr[0]).attr("height",yr[1]-yr[0]).attr("fill","none").attr("stroke","#000").attr("stroke-width",1.1);
  g.append("text").attr("x",(xr[0]+xr[1])/2).attr("y",yr[0]-8.2).attr("text-anchor","middle").attr("font-size",16.7).text(o.title);
  if(o.xlabel) g.append("text").attr("x",(xr[0]+xr[1])/2).attr("y",yr[1]+o.xlabelDy).attr("text-anchor","middle").attr("font-size",FS).text(o.xlabel);
  if(o.ylabel){
    const isSup=typeof o.ylabel==="object";
    const t=g.append("text").attr("transform",`translate(${xr[0]-o.ylabelDx},${(yr[0]+yr[1])/2+(isSup?4:0)}) rotate(-90)`).attr("text-anchor","middle").attr("font-size",FS);
    if(isSup){t.append("tspan").text(o.ylabel.a);t.append("tspan").attr("dy",-5).attr("font-size",10).text(o.ylabel.sup);t.append("tspan").attr("dy",5).text(o.ylabel.b);}else t.text(o.ylabel);}
  return {g,marks,under};
}
function legendBox(g,x0,x1,y0,y1){g.append("rect").attr("x",x0).attr("y",y0).attr("width",x1-x0).attr("height",y1-y0).attr("rx",2.5).attr("fill","#fff").attr("fill-opacity",.8).attr("stroke","#ccc").attr("stroke-width",1.1);}
const legText=(g,x,y,s)=>g.append("text").attr("x",x).attr("y",y).attr("dy","0.36em").attr("font-size",11.1).text(s);

// ---- Flight Track ----
{
  const x=d3.scaleLinear().domain([-180,180]).range(colL);
  const y=d3.scaleLinear().domain([-90,90]).range(row1.slice().reverse());
  const p=panel(colL,row1,x,y,{xTicks:lonTicks,yTicks:latTicks,bg:"#d4e5f2",title:"Flight Track",xlabel:"Longitude (deg)",xlabelDy:40.5,ylabel:"Latitude (deg)",ylabelDx:49,gridStroke:"#c3cbd0",gridW:.7,dash:"2.6,1.6"});
  const line=d3.line().x(d=>x(d[0])).y(d=>y(d[1]));
  const mp=p.under.append("g").attr("filter","url(#soft)");
  mp.selectAll("path.l").data(land).join("path").attr("d",d=>line(d)+"Z").attr("fill","#e8e8e4").attr("stroke","#bfc5c8").attr("stroke-width",.8);
  mp.selectAll("path.b").data(borders).join("path").attr("d",d=>line(d)).attr("fill","none").attr("stroke","#dcdcd8").attr("stroke-width",.7);
  mp.selectAll("path.k").data(lakes).join("path").attr("d",d=>line(d)+"Z").attr("fill","#d4e5f2").attr("stroke","#bfc5c8").attr("stroke-width",.5);
  const fx=d3.range(fixDay.length);
  p.marks.selectAll("circle.t").data(fx).join("circle").attr("cx",i=>x(fixLon[i])).attr("cy",i=>y(fixLat[i])).attr("r",2.3).attr("fill","#c0392b");
  p.marks.append("circle").attr("cx",x(launchFix.lon)).attr("cy",y(launchFix.lat)).attr("r",8.3).attr("fill","#27ae60").attr("stroke","#000").attr("stroke-width",1.4);
  const star=d3.symbol(d3.symbolStar).size(140);
  p.marks.append("path").attr("d",star()).attr("transform",`translate(${x(lastFix.lon)},${y(lastFix.lat)})`).attr("fill","#2878b5").attr("stroke","#000").attr("stroke-width",1.4);
  const lg=p.g.append("g");
  legendBox(lg,90,169,283.4,333.4);
  lg.append("circle").attr("cx",104.3).attr("cy",292.5).attr("r",1.9).attr("fill","#c0392b");
  lg.append("circle").attr("cx",104.3).attr("cy",307.8).attr("r",8.3).attr("fill","#27ae60").attr("stroke","#000").attr("stroke-width",1.4);
  lg.append("path").attr("d",star()).attr("transform","translate(104.3,323.2)").attr("fill","#2878b5").attr("stroke","#000").attr("stroke-width",1.4);
  legText(lg,124,292.5,"Track");legText(lg,125,308,"Launch");legText(lg,124.3,323,"Last fix");
}
// ---- Wind ----
{
  const x=d3.scaleUtc().domain(dateDomain).range(colL);
  const y=d3.scaleLinear().domain([0,52.9]).range(row2.slice().reverse());
  const p=panel(colL,row2,x,y,{xTicks:dateTickDays.map(toDate),yTicks:windTicks,xFmt:fmtDate,rotate:true,title:"Wind Speed vs. Time",ylabel:{a:"Wind speed (m s",sup:"−1",b:")"},ylabelDx:42});
  const idx=d3.range(windDay.length).sort((a,b)=>windDay[a]-windDay[b]);
  p.marks.append("path").attr("d",d3.area().x(i=>x(toDate(windDay[i]))).y0(i=>y(windSpeed[i]-windSigma[i])).y1(i=>y(windSpeed[i]+windSigma[i]))(idx)).attr("fill","#7f8c8d").attr("fill-opacity",.35).attr("stroke","#7f8c8d").attr("stroke-opacity",.2).attr("stroke-width",.6);
  p.marks.selectAll("circle").data(idx).join("circle").attr("cx",i=>x(toDate(windDay[i]))).attr("cy",i=>y(windSpeed[i])).attr("r",2).attr("fill","#2c3e50");
  p.marks.append("path").attr("d",d3.line().x(d=>x(toDate(d[0]))).y(d=>y(d[1]))(d3.zip(meanDay,meanWind))).attr("fill","none").attr("stroke","#c0392b").attr("stroke-width",lineW);
  const lg=p.g.append("g");
  legendBox(lg,604.5,766.8,425,475.3);
  lg.append("rect").attr("x",609).attr("y",430.2).attr("width",23).attr("height",9).attr("fill","#7f8c8d").attr("fill-opacity",.35).attr("stroke","#7f8c8d").attr("stroke-opacity",.2);
  lg.append("circle").attr("cx",620.4).attr("cy",450.3).attr("r",2).attr("fill","#2c3e50");
  lg.append("line").attr("x1",608.5).attr("x2",632).attr("y1",464.8).attr("y2",464.8).attr("stroke","#c0392b").attr("stroke-width",lineW);
  legText(lg,640,435,"±1σ propagated error");legText(lg,640,450.3,"Wind speed");legText(lg,640,465.5,"Daily mean");
}
// ---- Latitude ----
{
  const x=d3.scaleUtc().domain(dateDomain).range(colR);
  const y=d3.scaleLinear().domain([-90,90]).range(row2.slice().reverse());
  const p=panel(colR,row2,x,y,{xTicks:dateTickDays.map(toDate),yTicks:latTicks,xFmt:fmtDate,rotate:true,title:"Latitude vs. Time",ylabel:"Latitude (deg)",ylabelDx:48.2});
  p.marks.selectAll("circle").data(d3.range(fixDay.length)).join("circle").attr("cx",i=>x(toDate(fixDay[i]))).attr("cy",i=>y(fixLat[i])).attr("r",2.3).attr("fill","#000");
}
// ---- Altitude ----
{
  const x=d3.scaleUtc().domain(dateDomain).range(colL);
  const y=d3.scaleLinear().domain([12303,13348]).range(row3.slice().reverse());
  const p=panel(colL,row3,x,y,{xTicks:dateTickDays.map(toDate),yTicks:altTicks,xFmt:fmtDate,rotate:true,title:"Balloon Altitude vs. Time",xlabel:"UTC date",xlabelDy:61,ylabel:"Altitude (m AMSL)",ylabelDx:64.3});
  p.marks.selectAll("circle").data(d3.range(altDay.length)).join("circle").attr("cx",i=>x(toDate(altDay[i]))).attr("cy",i=>y(altitude[i])).attr("r",1.9).attr("fill","#7f8c8d");
  p.marks.append("path").attr("d",d3.line().x(d=>x(toDate(d[0]))).y(d=>y(d[1]))(d3.zip(meanDay,meanAlt))).attr("fill","none").attr("stroke","#c0392b").attr("stroke-width",lineW);
}
// ---- Histogram ----
{
  const x=d3.scaleLinear().domain([-100,100]).range(colR);
  const y=d3.scaleLinear().domain([0,113.4]).range(row3.slice().reverse());
  const p=panel(colR,row3,x,y,{xTicks:histXTicks,yTicks:histYTicks,title:"U and V Wind Components",xlabel:"",ylabel:"Frequency",ylabelDx:44.2});
  const draw=(counts,color)=>p.marks.append("g").selectAll("rect").data(binStart.map((b,i)=>[b,counts[i]]).filter(d=>d[1]>0)).join("rect")
    .attr("x",d=>x(d[0])).attr("width",d=>x(d[0]+binWidth)-x(d[0])).attr("y",d=>y(d[1])).attr("height",d=>y(0)-y(d[1])).attr("fill",color).attr("fill-opacity",.65).attr("stroke","#000").attr("stroke-opacity",.75).attr("stroke-width",1.4);
  draw(countU,"#1f77b4");draw(countV,"#ff7f0e");
  const t=p.g.append("text").attr("x",(colR[0]+colR[1])/2).attr("y",row3[1]+44.5).attr("text-anchor","middle").attr("font-size",FS);
  t.append("tspan").text("Wind speed (m s");t.append("tspan").attr("dy",-5).attr("font-size",10).text("−1");t.append("tspan").attr("dy",5).text(")");
  const lg=p.g.append("g");
  legendBox(lg,1432,1551.5,813.8,848.2);
  [["#1f77b4",823.8,"U (zonal)"],["#ff7f0e",839,"V (meridional)"]].forEach(([c,yy,s])=>{
    lg.append("rect").attr("x",1437).attr("y",yy-4).attr("width",23).attr("height",8).attr("fill",c).attr("fill-opacity",.65).attr("stroke","#000").attr("stroke-opacity",.75).attr("stroke-width",1.1);
    legText(lg,1468.5,yy,s);
  });
}
// ---- Summary ----
const info=svg.append("g");
infoLines.forEach(([s,fs,c,yy])=>info.append("text").attr("x",1213).attr("y",yy).attr("dy","0.36em").attr("text-anchor","middle").attr("font-size",fs).style("fill",c).text(s));
</script>
</body></html>
